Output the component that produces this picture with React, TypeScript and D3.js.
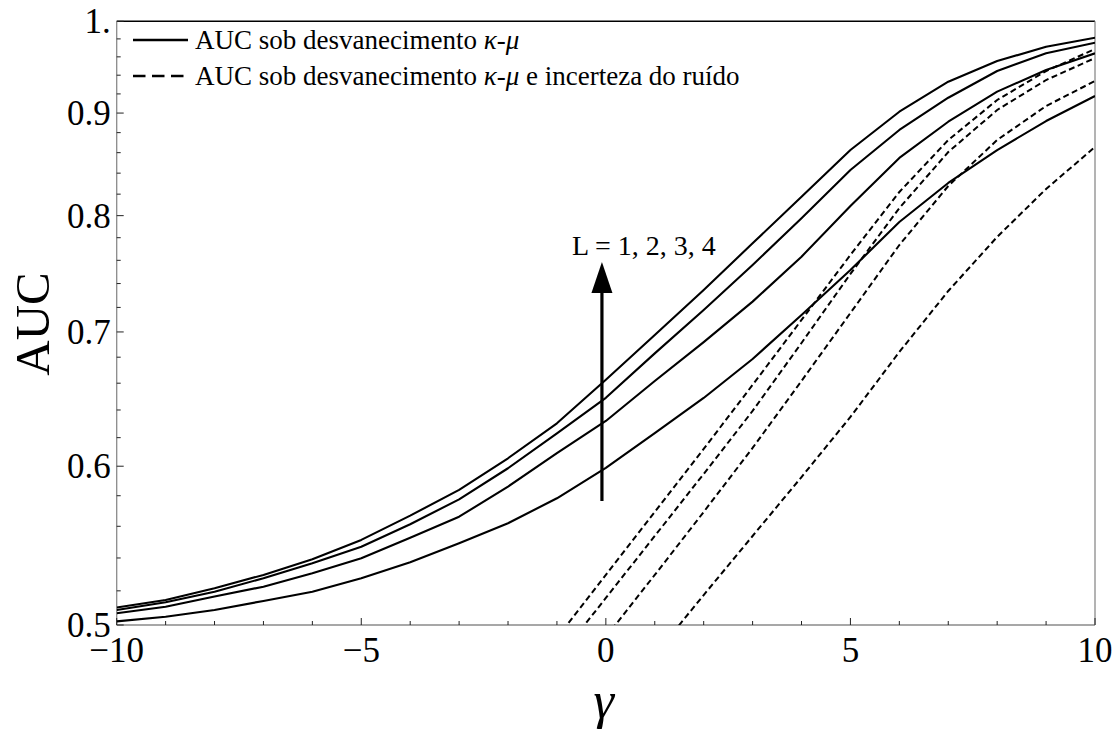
import React from "react";
import * as d3 from "d3";

// SNR axis (dB)
const gamma = [-10, -9, -8, -7, -6, -5, -4, -3, -2, -1, 0, 1, 2, 3, 4, 5, 6, 7, 8, 9, 10];

// AUC under kappa-mu fading, L = 1..4
const aucL1 = [0.5021, 0.5048, 0.5087, 0.514, 0.5195, 0.5276, 0.5374, 0.5492, 0.562, 0.5783, 0.5988, 0.6233, 0.6489, 0.6786, 0.7138, 0.7516, 0.7942, 0.8306, 0.8626, 0.8918, 0.9178];
const aucL2 = [0.5068, 0.5106, 0.5166, 0.5225, 0.5306, 0.5398, 0.5527, 0.5662, 0.5861, 0.609, 0.632, 0.6617, 0.6919, 0.7248, 0.7632, 0.8089, 0.8548, 0.8911, 0.9224, 0.9456, 0.9639];
const aucL3 = [0.5087, 0.5132, 0.5195, 0.5276, 0.5367, 0.547, 0.5613, 0.5776, 0.5986, 0.6231, 0.649, 0.683, 0.7178, 0.7559, 0.7976, 0.8431, 0.8827, 0.916, 0.9445, 0.9639, 0.9757];
const aucL4 = [0.5101, 0.5146, 0.5215, 0.5296, 0.5392, 0.5513, 0.5669, 0.5839, 0.6055, 0.6303, 0.6626, 0.6975, 0.7346, 0.775, 0.8176, 0.8626, 0.9014, 0.933, 0.9554, 0.9712, 0.9813];

// AUC under kappa-mu fading and noise uncertainty
const gammaNoiseL1 = [1, 2, 3, 4, 5, 6, 7, 8, 9, 10];
const aucNoiseL1 = [0.4831, 0.5175, 0.5538, 0.5926, 0.6349, 0.6841, 0.7337, 0.7807, 0.8249, 0.8656];
const gammaNoiseL2 = [0, 1, 2, 3, 4, 5, 6, 7, 8, 9, 10];
const aucNoiseL2 = [0.4932, 0.5296, 0.5693, 0.6127, 0.6617, 0.7154, 0.7735, 0.8277, 0.8726, 0.9073, 0.9338];
const gammaNoiseL3 = [-1, 0, 1, 2, 3, 4, 5, 6, 7, 8, 9, 10];
const aucNoiseL3 = [0.4803, 0.5158, 0.5538, 0.5947, 0.6393, 0.6912, 0.7482, 0.807, 0.8606, 0.9032, 0.9348, 0.9587];
const gammaNoiseL4 = [-1, 0, 1, 2, 3, 4, 5, 6, 7, 8, 9, 10];
const aucNoiseL4 = [0.4926, 0.5296, 0.5693, 0.612, 0.6587, 0.7097, 0.7647, 0.822, 0.8726, 0.9136, 0.9445, 0.9687];

const xMajorTicks = [-10, -5, 0, 5, 10];
const xTickLabels = ["\u221210", "\u22125", "0", "5", "10"];
const yMajorTicks = [0.5, 0.6, 0.7, 0.8, 0.9, 1.0];
const yTickLabels = ["0.5", "0.6", "0.7", "0.8", "0.9", "1."];

const legendLabels = ["AUC sob desvanecimento ", "AUC sob desvanecimento "];
const legendSuffix = ["", " e incerteza do ruído"];
const annotation = "L = 1, 2, 3, 4";

const W = 1120;
const H = 738;
const left = 116.7;
const right = 1095;
const top = 21.3;
const bottom = 625;
const serif = "'Liberation Serif', 'Times New Roman', serif";

export default function App() {
  const x = d3.scaleLinear().domain([-10, 10]).range([left, right]);
  const y = d3.scaleLog().domain([0.5, 1]).range([bottom, top]);

  const line = d3
    .line<[number, number]>()
    .x((d) => x(d[0]))
    .y((d) => y(d[1]))
    .curve(d3.curveLinear);

  const solid = [aucL1, aucL2, aucL3, aucL4].map((s) =>
    line(gamma.map((g, i) => [g, s[i]] as [number, number]))
  );
  const dashed = [
    [gammaNoiseL1, aucNoiseL1],
    [gammaNoiseL2, aucNoiseL2],
    [gammaNoiseL3, aucNoiseL3],
    [gammaNoiseL4, aucNoiseL4],
  ].map(([gs, vs]) => line(gs.map((g, i) => [g, vs[i]] as [number, number])));

  const xMinor = d3.range(-10, 11, 1).filter((v) => !xMajorTicks.includes(v));
  const yMinor = d3
    .range(0.52, 0.99, 0.02)
    .map((v) => Math.round(v * 100) / 100)
    .filter((v) => Math.round(v * 100) % 10 !== 0);

  const axisGray = "#8a8a8a";
  const tickColor = "#222";
  const arrowX = x(-0.08);

  return (
    <svg
      width={W}
      height={H}
      style={{ position: "absolute", left: 0, top: 0, background: "#fff" }}
      fontFamily={serif}
    >
      <defs>
        <clipPath id="plotClip">
          <rect x={left} y={top} width={right - left} height={bottom - top} />
        </clipPath>
      </defs>

      {/* frame */}
      <line x1={left} x2={right} y1={top} y2={top} stroke="#000" strokeWidth={1.5} />
      <line x1={right} x2={right} y1={top} y2={bottom} stroke={axisGray} strokeWidth={1.3} />
      <line x1={left} x2={left} y1={top} y2={bottom} stroke={axisGray} strokeWidth={1.3} />
      <line x1={left} x2={right} y1={bottom} y2={bottom} stroke={axisGray} strokeWidth={1.3} />

      {/* x ticks */}
      {xMajorTicks.map((t) => (
        <line key={"xM" + t} x1={x(t)} x2={x(t)} y1={bottom} y2={bottom - 7} stroke={tickColor} strokeWidth={1} />
      ))}
      {xMinor.map((t) => (
        <line key={"xm" + t} x1={x(t)} x2={x(t)} y1={bottom} y2={bottom - 4} stroke={tickColor} strokeWidth={1} />
      ))}
      {xMajorTicks.map((t, i) => (
        <text key={"xl" + t} x={x(t)} y={bottom + 37} fontSize={35} textAnchor="middle" fill="#000">
          {xTickLabels[i]}
        </text>
      ))}

      {/* y ticks */}
      {yMajorTicks.map((t) => (
        <line key={"yM" + t} x1={left} x2={left + 7} y1={y(t)} y2={y(t)} stroke={tickColor} strokeWidth={1} />
      ))}
      {yMinor.map((t) => (
        <line key={"ym" + t} x1={left} x2={left + 4} y1={y(t)} y2={y(t)} stroke={tickColor} strokeWidth={1} />
      ))}
      {yMajorTicks.map((t, i) => (
        <text key={"yl" + t} x={left - 6} y={y(t) + 12} fontSize={35} textAnchor="end" fill="#000">
          {yTickLabels[i]}
        </text>
      ))}

      {/* axis titles */}
      <text transform={`translate(49, 324) rotate(-90)`} fontSize={49} textAnchor="middle" fill="#000">
        AUC
      </text>
      <text x={x(0) - 2} y={718} fontSize={52} fontStyle="italic" textAnchor="middle" fill="#000">
        γ
      </text>

      {/* curves */}
      <g clipPath="url(#plotClip)">
        {solid.map((d, i) => (
          <path key={"s" + i} d={d || ""} fill="none" stroke="#000" strokeWidth={2.1} strokeLinejoin="round" />
        ))}
        {dashed.map((d, i) => (
          <path key={"d" + i} d={d || ""} fill="none" stroke="#000" strokeWidth={2} strokeDasharray="6,3.5" />
        ))}
      </g>

      {/* arrow annotation */}
      <line x1={arrowX} x2={arrowX} y1={501} y2={290} stroke="#000" strokeWidth={3.2} />
      <path d={`M${arrowX},262 L${arrowX - 10.5},293 L${arrowX + 10.5},293 Z`} fill="#000" />
      <text x={572} y={255} fontSize={28} fill="#000">
        {annotation}
      </text>

      {/* legend */}
      <line x1={133} x2={188} y1={40} y2={40} stroke="#000" strokeWidth={2.7} />
      <line x1={133} x2={188} y1={76} y2={76} stroke="#000" strokeWidth={2.7} strokeDasharray="12.5,6.5" />
      {legendLabels.map((lab, i) => (
        <text key={"lg" + i} x={195} y={49 + i * 36} fontSize={27} fill="#000">
          {lab}
          <tspan fontStyle="italic">κ-μ</tspan>
          {legendSuffix[i]}
        </text>
      ))}
    </svg>
  );
}
